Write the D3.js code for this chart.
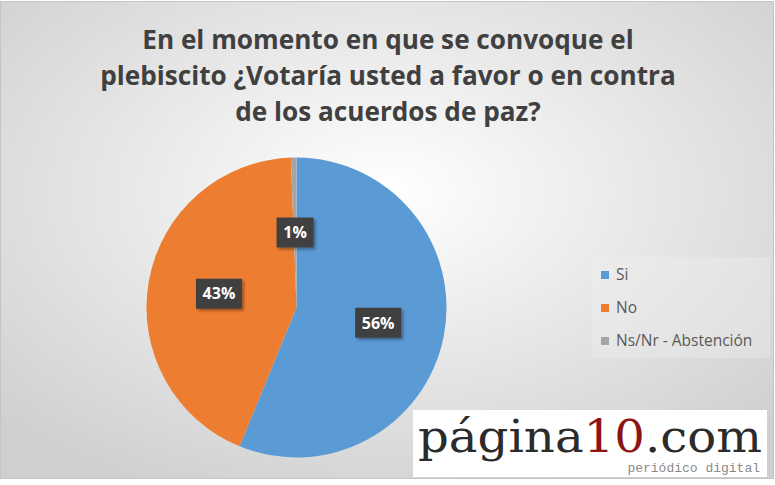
<!DOCTYPE html>
<html>
<head>
<meta charset="utf-8">
<script src="https://cdn.jsdelivr.net/npm/d3@7"></script>
<style>
  html, body { margin: 0; padding: 0; background: #fff; }
  svg { display: block; }
</style>
</head>
<body>
<div id="chart"></div>
<script>
const titleLines = [
  "En el momento en que se convoque el",
  "plebiscito ¿Votaría usted a favor o en contra",
  "de los acuerdos de paz?"
];
const categories = ["Si", "No", "Ns/Nr - Abstención"];
const values = [56.2, 43.2, 0.6];
const labels = ["56%", "43%", "1%"];
const colors = ["#5b9bd5", "#ed7d31", "#a5a5a5"];

const W = 775, H = 485;

const svg = d3.select("#chart")
  .append("svg")
    .attr("width", W)
    .attr("height", H)
    .attr("viewBox", `0 0 ${W} ${H}`);

const defs = svg.append("defs");
const grad = defs.append("radialGradient")
    .attr("id", "bg")
    .attr("cx", "50%").attr("cy", "40%").attr("r", "70%");
grad.append("stop").attr("offset", "0%").attr("stop-color", "#ffffff");
grad.append("stop").attr("offset", "100%").attr("stop-color", "#cfcfcf");

const shadow = defs.append("filter").attr("id", "shadow")
    .attr("x", "-30%").attr("y", "-30%").attr("width", "170%").attr("height", "170%");
shadow.append("feDropShadow")
    .attr("dx", 2).attr("dy", 2).attr("stdDeviation", 1.5)
    .attr("flood-color", "#000").attr("flood-opacity", 0.35);

svg.append("rect")
    .attr("x", 0.5).attr("y", 1.5)
    .attr("width", 773).attr("height", 477)
    .attr("fill", "url(#bg)")
    .attr("stroke", "#c4c4c4");

// title
const title = svg.append("g");
title.selectAll("text")
  .data(titleLines)
  .enter()
  .append("text")
    .attr("x", 388)
    .attr("y", (d, i) => 49 + i * 36)
    .attr("text-anchor", "middle")
    .attr("font-family", "'Open Sans', sans-serif")
    .attr("font-weight", "bold")
    .attr("font-size", 25)
    .attr("fill", "#404040")
    .text(d => d);
// squeeze the title to the width of the original line 2
const line2 = title.selectAll("text").nodes()[1];
const scaleF = 576 / line2.getComputedTextLength();
title.selectAll("text").attr("font-size", 25 * scaleF);

// pie
const cx = 296.5, cy = 307.5, r = 150;
const pie = d3.pie().sort(null).value(d => d);
const arcs = pie(values);
const arc = d3.arc().innerRadius(0).outerRadius(r);
const labelArc = d3.arc().innerRadius(r * 0.5).outerRadius(r * 0.5);

const g = svg.append("g").attr("transform", `translate(${cx},${cy})`);
g.selectAll("path")
  .data(arcs)
  .enter()
  .append("path")
    .attr("d", arc)
    .attr("fill", (d, i) => colors[i]);

const lab = g.selectAll("g.lab")
  .data(arcs)
  .enter()
  .append("g")
    .attr("class", "lab")
    .attr("transform", (d, i) => {
      let [x, y] = labelArc.centroid(d);
      if (i === 0) { x *= 1.11; y *= 1.05; }
      if (i === 1) { x *= 1.05; y *= 1.05; }
      if (i === 2) { y = -r * 0.5; }
      return `translate(${x},${y})`;
    });
lab.append("rect")
    .attr("x", (d, i) => i === 2 ? -18.5 : -23)
    .attr("y", -15)
    .attr("width", (d, i) => i === 2 ? 37 : 46)
    .attr("height", 30)
    .attr("fill", "#404040")
    .attr("filter", "url(#shadow)");
lab.append("text")
    .attr("text-anchor", "middle")
    .attr("dy", "0.36em")
    .attr("font-family", "'Open Sans', sans-serif")
    .attr("font-weight", "bold")
    .attr("font-size", 16)
    .attr("fill", "#ffffff")
    .text((d, i) => labels[i]);

// legend
const legend = svg.append("g").attr("transform", "translate(592,257)");
legend.append("rect")
    .attr("width", 178).attr("height", 101)
    .attr("fill", "#f0f0f0").attr("opacity", 0.35);
const y = d3.scalePoint().domain(categories).range([18, 84]);
const item = legend.selectAll("g.item")
  .data(categories)
  .enter()
  .append("g")
    .attr("class", "item")
    .attr("transform", d => `translate(0,${y(d)})`);
item.append("rect")
    .attr("x", 9).attr("y", -4)
    .attr("width", 8).attr("height", 8)
    .attr("fill", (d, i) => colors[i]);
item.append("text")
    .attr("x", 24)
    .attr("dy", "0.35em")
    .attr("font-family", "'Open Sans', sans-serif")
    .attr("font-size", 15.5)
    .attr("fill", "#595959")
    .text(d => d);

// logo
const logo = svg.append("g");
logo.append("rect")
    .attr("x", 413).attr("y", 410)
    .attr("width", 354).attr("height", 67)
    .attr("fill", "#ffffff");
const logoText = logo.append("text")
    .attr("x", 418).attr("y", 452)
    .attr("font-family", "'DejaVu Serif', serif")
    .attr("font-size", 45)
    .attr("fill", "#2b2b2b")
    .attr("textLength", 344)
    .attr("lengthAdjust", "spacingAndGlyphs");
logoText.append("tspan").text("página");
logoText.append("tspan").attr("fill", "#8b1515").text("10");
logoText.append("tspan").text(".com");
logo.append("text")
    .attr("x", 760).attr("y", 472)
    .attr("text-anchor", "end")
    .attr("font-family", "'Liberation Mono', monospace")
    .attr("font-size", 13)
    .attr("fill", "#8a8a8a")
    .text("periódico digital");
</script>
</body>
</html>
